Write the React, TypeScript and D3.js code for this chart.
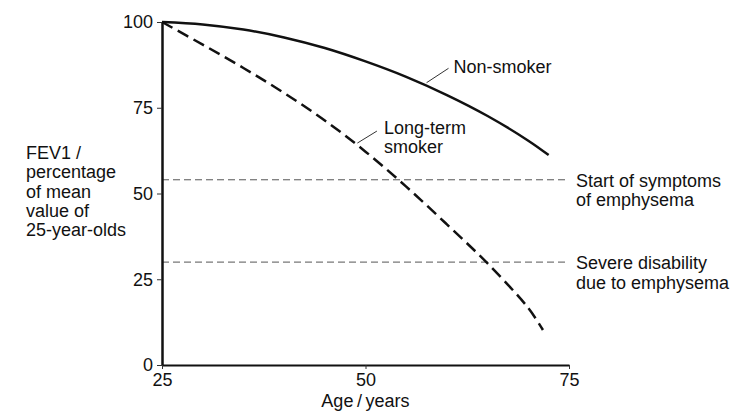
import { useEffect, useRef } from 'react'
import * as d3 from 'd3'

// FEV1 (% of mean value of 25-year-olds) by age
const nonSmokerAges = [25, 30, 35, 40, 45, 50, 55, 60, 65, 70, 72.5]
const nonSmokerValues = [100, 99.3, 97.8, 95.5, 92.4, 88.5, 84, 78.7, 72.6, 65.4, 61.2]

const smokerAges = [25, 30, 35, 40, 45, 50, 55, 60, 65, 70, 71.8]
const smokerValues = [100, 93.4, 86.6, 79.3, 71.3, 62.2, 52, 41, 29.6, 16.6, 10.2]

const thresholdValues = [54, 30]
const thresholdLabels = [
  ['Start of symptoms', 'of emphysema'],
  ['Severe disability', 'due to emphysema'],
]

const xTicks = [25, 50, 75]
const yTicks = [0, 25, 50, 75, 100]
const yTitle = ['FEV1 /', 'percentage', 'of mean', 'value of', '25-year-olds']
const xTitle = 'Age\u2009/\u2009years'

const FONT = 'Liberation Sans, Arial, sans-serif'
const FS = 18

export default function App() {
  const svgRef = useRef<SVGSVGElement>(null)

  useEffect(() => {
    if (!svgRef.current) return
    const svg = d3.select(svgRef.current)
    svg.selectAll('*').remove()

    const x = d3.scaleLinear().domain([25, 75]).range([162, 569])
    const y = d3.scaleLinear().domain([0, 100]).range([365, 22])

    const line = d3.line<[number, number]>()
      .x(d => x(d[0]))
      .y(d => y(d[1]))
      .curve(d3.curveCatmullRom)

    // threshold lines
    thresholdValues.forEach((v, i) => {
      svg.append('line')
        .attr('x1', x(25)).attr('x2', x(75))
        .attr('y1', y(v)).attr('y2', y(v))
        .attr('stroke', '#555')
        .attr('stroke-width', 1)
        .attr('stroke-dasharray', '7 4')
      const t = svg.append('text')
        .attr('x', x(75) + 7)
        .attr('y', y(v) + 7)
        .attr('font-family', FONT)
        .attr('font-size', FS)
        .attr('fill', '#111')
      thresholdLabels[i].forEach((s, j) => {
        t.append('tspan').attr('x', x(75) + 7).attr('dy', j === 0 ? 0 : 19.5).text(s)
      })
    })

    // curves
    const nonSmoker = nonSmokerAges.map((a, i) => [a, nonSmokerValues[i]] as [number, number])
    const smoker = smokerAges.map((a, i) => [a, smokerValues[i]] as [number, number])

    svg.append('path')
      .attr('d', line(nonSmoker))
      .attr('fill', 'none')
      .attr('stroke', '#111')
      .attr('stroke-width', 2.5)

    svg.append('path')
      .attr('d', line(smoker))
      .attr('fill', 'none')
      .attr('stroke', '#111')
      .attr('stroke-width', 2.5)
      .attr('stroke-dasharray', '12 6')

    // annotations
    svg.append('line')
      .attr('x1', x(57.5)).attr('y1', y(82.3))
      .attr('x2', x(60.2)).attr('y2', y(86.5))
      .attr('stroke', '#333').attr('stroke-width', 1)
    svg.append('text')
      .attr('x', x(60.2) + 5).attr('y', y(86.5) + 5)
      .attr('font-family', FONT).attr('font-size', FS).attr('fill', '#111')
      .text('Non-smoker')

    svg.append('line')
      .attr('x1', x(49)).attr('y1', y(64.7))
      .attr('x2', x(51.4)).attr('y2', y(68.2))
      .attr('stroke', '#333').attr('stroke-width', 1)
    const lt = svg.append('text')
      .attr('font-family', FONT).attr('font-size', FS).attr('fill', '#111')
    ;['Long-term', 'smoker'].forEach((s, j) => {
      lt.append('tspan')
        .attr('x', x(51.4) + 7)
        .attr('y', y(68.2) + 3 + j * 18.5)
        .text(s)
    })

    // axes
    const yAxis = svg.append('g')
      .attr('transform', `translate(${x(25)},0)`)
      .call(d3.axisLeft(y).tickValues(yTicks).tickSize(5).tickSizeOuter(0).tickPadding(4))
    yAxis.select('.domain').attr('stroke', '#111').attr('stroke-width', 2.5)
    yAxis.selectAll('.tick line').attr('stroke', '#333').attr('stroke-width', 1)
    yAxis.selectAll('.tick text')
      .attr('font-family', FONT).attr('font-size', FS).attr('fill', '#111')

    const xAxis = svg.append('g')
      .attr('transform', `translate(0,${y(0)})`)
      .call(d3.axisBottom(x).tickValues(xTicks).tickSize(4).tickSizeOuter(0).tickPadding(4))
    xAxis.select('.domain').attr('stroke', '#111').attr('stroke-width', 2)
    xAxis.selectAll('.tick line').attr('stroke', '#333').attr('stroke-width', 1)
    xAxis.selectAll('.tick text')
      .attr('font-family', FONT).attr('font-size', FS).attr('fill', '#111')

    svg.append('text')
      .attr('x', x(50)).attr('y', 407)
      .attr('text-anchor', 'middle')
      .attr('font-family', FONT).attr('font-size', FS).attr('fill', '#111')
      .text(xTitle)

    const yt = svg.append('text')
      .attr('font-family', FONT).attr('font-size', FS).attr('fill', '#111')
    yTitle.forEach((s, j) => {
      yt.append('tspan').attr('x', 26).attr('y', 159 + j * 19.3).text(s)
    })
  }, [])

  return (
    <svg
      ref={svgRef}
      width={737}
      height={420}
      style={{ position: 'absolute', left: 0, top: 0, background: '#fff' }}
    />
  )
}
